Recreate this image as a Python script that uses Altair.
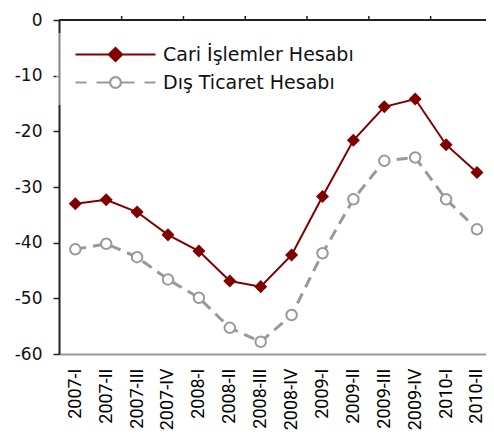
import altair as alt
import pandas as pd

categories = ["2007-I", "2007-II", "2007-III", "2007-IV", "2008-I", "2008-II", "2008-III",
              "2008-IV", "2009-I", "2009-II", "2009-III", "2009-IV", "2010-I", "2010-II"]
cari = [-33.0, -32.3, -34.5, -38.6, -41.5, -46.9, -47.9, -42.2, -31.7, -21.6, -15.6, -14.2, -22.4, -27.4]
dis = [-41.2, -40.2, -42.6, -46.6, -49.9, -55.3, -57.8, -53.0, -41.9, -32.2, -25.3, -24.7, -32.2, -37.6]
series_names = ["Cari İşlemler Hesabı", "Dış Ticaret Hesabı"]
y_ticks = [0, -10, -20, -30, -40, -50, -60]
top_ticks = ["2007-II", "2007-IV", "2008-II", "2008-IV", "2009-II", "2009-IV"]

RED = "#800000"
GRAY = "#999999"
DARK = "#222222"

rows = []
for q, v in zip(categories, cari):
    rows.append({"q": q, "series": series_names[0], "value": v})
for q, v in zip(categories, dis):
    rows.append({"q": q, "series": series_names[1], "value": v})
df = pd.DataFrame(rows)
df_top = pd.DataFrame({"q": top_ticks})

STEP = 30.9
xscale = alt.Scale(type="point", padding=0.4095, align=0.644)
yscale = alt.Scale(domain=[-60, 0], nice=False, zero=False)

bottom_axis = alt.Axis(title=None, labelAngle=-90, ticks=False, domainColor=GRAY, domainWidth=2,
                       labelFont="Roboto", labelFontSize=18, labelColor="#000000",
                       labelPadding=14, grid=False, labelOverlap=False, labelBound=False)
left_axis = alt.Axis(title=None, values=y_ticks, grid=False, tickSize=6, tickColor=DARK, tickWidth=1.5,
                     domainColor=DARK, domainWidth=2, labelFont="DejaVu Sans", labelFontSize=17,
                     labelPadding=11, labelColor="#111111",
                     labelExpr="datum.value < 0 ? '-' + abs(datum.value) : '' + datum.value")

# legend symbol paths (unit = 8 px with symbolSize 256)
red_path = "M-5,0H5M0,-0.82L0.82,0L0,0.82L-0.82,0Z"
gray_path = ("M-5,0H-3.625M-2.375,0H-0.75M0.75,0H2.375M3.625,0H5"
             "M0.68,0A0.68,0.68 0 1,1 -0.68,0A0.68,0.68 0 1,1 0.68,0Z")

legend = alt.Legend(
    title=None, orient="none", legendX=-3, legendY=13, symbolSize=256,
    symbolOffset=38, labelOffset=38, labelFont="DejaVu Sans", labelFontSize=19,
    labelColor="#111111", labelLimit=400, rowPadding=6, padding=12,
    fillColor="rgba(255,255,255,0.45)", symbolStrokeWidth=2.2, symbolOpacity=1,
)

base = alt.Chart(df)
X = alt.X("q:N", sort=categories, scale=xscale, axis=bottom_axis)
Y = alt.Y("value:Q", scale=yscale, axis=left_axis)

gray_line = base.transform_filter(alt.datum.series == series_names[1]).mark_line(
    strokeWidth=3, strokeDash=[11, 7], color=GRAY
).encode(x=X, y=Y)

gray_pts = base.transform_filter(alt.datum.series == series_names[1]).mark_point(
    shape="circle", filled=True, fill="white", stroke=GRAY, strokeWidth=2, size=110, opacity=1
).encode(x=X, y=Y)

red_line = base.transform_filter(alt.datum.series == series_names[0]).mark_line(
    strokeWidth=2, color=RED
).encode(x=X, y=Y)

red_pts = base.transform_filter(alt.datum.series == series_names[0]).mark_point(
    shape="diamond", filled=True, color=RED, size=170, opacity=1
).encode(x=X, y=Y)

# top frame line and its small upward ticks between every second pair of quarters
top_line = alt.Chart(df_top).mark_rule(color=DARK, strokeWidth=1.5).encode(
    x=alt.value(0), x2=alt.value("width"), y=alt.value(0)
)
top_tick_marks = alt.Chart(df_top).mark_rule(color=DARK, strokeWidth=1.5).encode(
    x=X, xOffset=alt.value(STEP / 2), y=alt.value(-4), y2=alt.value(0),
)

# legend-only layer (no rows pass the filter; entries come from the scale domains)
legend_layer = base.transform_filter("false").mark_point(
    filled=True, strokeWidth=2.2, opacity=1
).encode(
    shape=alt.Shape("series:N", scale=alt.Scale(domain=series_names, range=[red_path, gray_path]), legend=legend),
    fill=alt.Fill("series:N", scale=alt.Scale(domain=series_names, range=[RED, "#ffffff"]), legend=legend),
    stroke=alt.Stroke("series:N", scale=alt.Scale(domain=series_names, range=[RED, GRAY]), legend=legend),
)

chart = alt.layer(gray_line, gray_pts, red_line, red_pts, top_line, top_tick_marks, legend_layer).properties(
    width=427, height=334,
    autosize=alt.AutoSizeParams(type="none"),
    padding={"left": 51, "top": 12, "right": 0, "bottom": 78},
).configure_view(stroke=None)

chart.save("out.html", embed_options={"renderer": "svg", "actions": False})
